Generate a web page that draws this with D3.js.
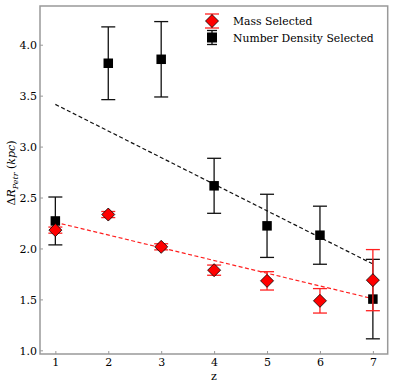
<!DOCTYPE html>
<html>
<head>
<meta charset="utf-8">
<script src="https://cdn.jsdelivr.net/npm/d3@7"></script>
<style>
  body { margin: 0; background: #fff; }
  text { font-family: "DejaVu Serif", serif; fill: #000; }
</style>
</head>
<body>
<div id="chart"></div>
<script>
// redshift bins
var zValues = [1, 2, 3, 4, 5, 6, 7];

// mass selected sample
var massVals = [2.18, 2.333, 2.016, 1.787, 1.682, 1.486, 1.689];
var massErrs = [0.03, 0.03, 0.03, 0.05, 0.09, 0.12, 0.30];

// number density selected sample
var ndVals = [2.27, 3.818, 3.857, 2.615, 2.222, 2.13, 1.503];
var ndErrs = [0.235, 0.357, 0.37, 0.27, 0.31, 0.285, 0.39];

var xTicks = [1, 2, 3, 4, 5, 6, 7];
var yTicks = [1.0, 1.5, 2.0, 2.5, 3.0, 3.5, 4.0];

var seriesNames = ["Mass Selected", "Number Density Selected"];

var size = {width: 395, height: 387, left: 40, top: 6, right: 7.3, bottom: 33};

var svg = d3.select("#chart").append("svg")
  .attr("width", size.width)
  .attr("height", size.height);

var x = d3.scaleLinear().domain([0.71, 7.28]).range([size.left, size.width - size.right]);
var y = d3.scaleLinear().domain([0.964, 4.38]).range([size.height - size.bottom, size.top]);

// least squares fit, like np.polyfit(z, vals, 1)
function fitLine(xs, ys) {
  var mx = d3.mean(xs), my = d3.mean(ys);
  var sxy = d3.sum(xs, function(d, i) { return (d - mx) * (ys[i] - my); });
  var sxx = d3.sum(xs, function(d) { return (d - mx) * (d - mx); });
  var b = sxy / sxx;
  return function(v) { return my + b * (v - mx); };
}

var axisColor = "#999";

// axes
var xAxis = svg.append("g")
  .attr("transform", "translate(0," + y.range()[0] + ")")
  .call(d3.axisBottom(x).tickValues(xTicks).tickFormat(d3.format("d")).tickSize(-3).tickPadding(4));
var yAxis = svg.append("g")
  .attr("transform", "translate(" + size.left + ",0)")
  .call(d3.axisLeft(y).tickValues(yTicks).tickFormat(d3.format(".1f")).tickSize(-3).tickPadding(3));

[xAxis, yAxis].forEach(function(a) {
  a.attr("font-family", null);
  a.select(".domain").remove();
  a.selectAll(".tick line").attr("stroke", axisColor).attr("stroke-width", 1);
  a.selectAll(".tick text").style("font-family", "'DejaVu Serif', serif").attr("font-size", 11).attr("fill", "#000");
});
yAxis.selectAll(".tick text").attr("dy", "0.35em");

// frame
svg.append("rect")
  .attr("x", x.range()[0]).attr("y", y.range()[1])
  .attr("width", x.range()[1] - x.range()[0])
  .attr("height", y.range()[0] - y.range()[1])
  .attr("fill", "none").attr("stroke", axisColor).attr("stroke-width", 1.5);

// fit lines
var fitMass = fitLine(zValues, massVals);
var fitNd = fitLine(zValues, ndVals);
var zEnds = [d3.min(zValues), d3.max(zValues)];

svg.append("path")
  .attr("d", d3.line().x(function(d) { return x(d); }).y(function(d) { return y(fitNd(d)); })(zEnds))
  .attr("fill", "none").attr("stroke", "#111").attr("stroke-width", 1.2).attr("stroke-dasharray", "4,2.5");
svg.append("path")
  .attr("d", d3.line().x(function(d) { return x(d); }).y(function(d) { return y(fitMass(d)); })(zEnds))
  .attr("fill", "none").attr("stroke", "#ff2020").attr("stroke-width", 1.2).attr("stroke-dasharray", "4,2.5");

function errorBars(g, vals, errs, color, capW) {
  var bars = g.selectAll("g.eb").data(zValues).enter().append("g").attr("class", "eb");
  bars.append("line")
    .attr("x1", function(d) { return x(d); }).attr("x2", function(d) { return x(d); })
    .attr("y1", function(d, i) { return y(vals[i] - errs[i]); })
    .attr("y2", function(d, i) { return y(vals[i] + errs[i]); })
    .attr("stroke", color).attr("stroke-width", 1.3);
  [-1, 1].forEach(function(s) {
    bars.append("line")
      .attr("x1", function(d) { return x(d) - capW / 2; }).attr("x2", function(d) { return x(d) + capW / 2; })
      .attr("y1", function(d, i) { return y(vals[i] + s * errs[i]); })
      .attr("y2", function(d, i) { return y(vals[i] + s * errs[i]); })
      .attr("stroke", color).attr("stroke-width", 1.3);
  });
}

// number density selected
var gNd = svg.append("g");
errorBars(gNd, ndVals, ndErrs, "#111", 14);
gNd.selectAll("rect").data(zValues).enter().append("rect")
  .attr("x", function(d) { return x(d) - 4.75; })
  .attr("y", function(d, i) { return y(ndVals[i]) - 4.75; })
  .attr("width", 9.5).attr("height", 9.5)
  .attr("fill", "#000");

// mass selected
var gMass = svg.append("g");
errorBars(gMass, massVals, massErrs, "#ff2020", 14);
var diamond = "M0,-6.5L6.5,0L0,6.5L-6.5,0Z";
gMass.selectAll("path.mk").data(zValues).enter().append("path")
  .attr("class", "mk")
  .attr("d", diamond)
  .attr("transform", function(d, i) { return "translate(" + x(d) + "," + y(massVals[i]) + ")"; })
  .attr("fill", "#ff0000").attr("stroke", "#000").attr("stroke-width", 0.8);

// legend
var legend = svg.append("g").attr("transform", "translate(212,21)");
var leg1 = legend.append("g");
leg1.append("line").attr("x1", 0).attr("x2", 0).attr("y1", -7).attr("y2", 7).attr("stroke", "#ff2020").attr("stroke-width", 1.3);
leg1.append("line").attr("x1", -7).attr("x2", 7).attr("y1", -7).attr("y2", -7).attr("stroke", "#ff2020").attr("stroke-width", 1.3);
leg1.append("line").attr("x1", -7).attr("x2", 7).attr("y1", 7).attr("y2", 7).attr("stroke", "#ff2020").attr("stroke-width", 1.3);
leg1.append("path").attr("d", diamond).attr("fill", "#ff0000").attr("stroke", "#000").attr("stroke-width", 0.8);
leg1.append("text").attr("x", 21).attr("y", 4).attr("font-size", 10.8).text(seriesNames[0]);

var leg2 = legend.append("g").attr("transform", "translate(0,16.5)");
leg2.append("line").attr("x1", 0).attr("x2", 0).attr("y1", -7).attr("y2", 7).attr("stroke", "#111").attr("stroke-width", 1.3);
leg2.append("line").attr("x1", -5).attr("x2", 5).attr("y1", -7).attr("y2", -7).attr("stroke", "#111").attr("stroke-width", 1.3);
leg2.append("line").attr("x1", -5).attr("x2", 5).attr("y1", 7).attr("y2", 7).attr("stroke", "#111").attr("stroke-width", 1.3);
leg2.append("rect").attr("x", -5).attr("y", -5).attr("width", 10).attr("height", 10).attr("fill", "#000");
leg2.append("text").attr("x", 21).attr("y", 4).attr("font-size", 10.8).text(seriesNames[1]);

// axis labels
svg.append("text")
  .attr("x", (x.range()[0] + x.range()[1]) / 2).attr("y", 380)
  .attr("text-anchor", "middle").attr("font-size", 11).text("z");

var yl = svg.append("text")
  .attr("transform", "translate(15,173) rotate(-90)")
  .attr("text-anchor", "middle").attr("font-size", 11);
yl.append("tspan").text("Δ");
yl.append("tspan").attr("font-style", "italic").text("R");
yl.append("tspan").attr("font-style", "italic").attr("font-size", 8).attr("dy", 2.5).text("Petr");
yl.append("tspan").attr("dy", -2.5).text(" (");
yl.append("tspan").attr("font-style", "italic").text("kpc");
yl.append("tspan").text(")");
</script>
</body>
</html>
